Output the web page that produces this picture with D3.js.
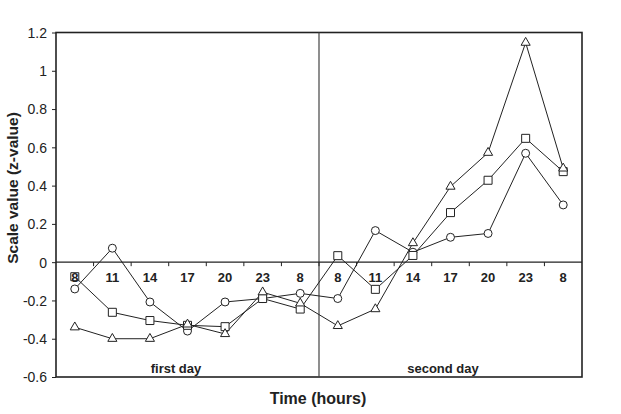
<!DOCTYPE html>
<html>
<head>
<meta charset="utf-8">
<script src="https://cdn.jsdelivr.net/npm/d3@7"></script>
<style>
  body { margin: 0; background: #fff; }
  svg { font-family: "Liberation Sans", Arial, sans-serif; }
</style>
</head>
<body>
<svg id="chart" width="621" height="414"></svg>
<script>
// hour labels, two days of 7 readings each
let hourLabels = ["8", "11", "14", "17", "20", "23", "8", "8", "11", "14", "17", "20", "23", "8"];
let dayLabels = ["first day", "second day"];
let yTicks = [-0.6, -0.4, -0.2, 0, 0.2, 0.4, 0.6, 0.8, 1, 1.2];

// series (z-values)
let circleVals = [-0.14, 0.073, -0.208, -0.36, -0.208, -0.19, -0.163, -0.19, 0.165, 0.052, 0.13, 0.15, 0.569, 0.299];
let squareVals = [-0.076, -0.262, -0.305, -0.33, -0.337, -0.19, -0.245, 0.034, -0.142, 0.035, 0.259, 0.428, 0.647, 0.473];
let triangleVals = [-0.34, -0.40, -0.40, -0.325, -0.375, -0.157, -0.215, -0.333, -0.245, 0.10, 0.395, 0.572, 1.147, 0.49];

let svg = d3.select("#chart");
let margin = {left: 56, right: 39, top: 32.5, bottom: 37};
let width = 621, height = 414;

let x = d3.scaleBand()
    .domain(d3.range(hourLabels.length))
    .range([margin.left, width - margin.right])
    .padding(0);

let y = d3.scaleLinear()
    .domain([-0.6, 1.2])
    .range([height - margin.bottom, margin.top]);

// y axis
let yAxis = svg.append("g")
    .attr("transform", "translate(" + margin.left + ",0)")
    .call(d3.axisLeft(y).tickValues(yTicks).tickSize(4).tickPadding(5)
        .tickFormat(d => String(+d.toFixed(1))));
yAxis.select(".domain").remove();
yAxis.selectAll(".tick line").attr("stroke", "#222");
yAxis.selectAll("text").attr("font-size", 14).attr("fill", "#222").attr("dy", "0.35em");

// frame
svg.append("rect")
    .attr("x", margin.left)
    .attr("y", margin.top)
    .attr("width", width - margin.left - margin.right)
    .attr("height", height - margin.top - margin.bottom)
    .attr("fill", "none")
    .attr("stroke", "#222")
    .attr("stroke-width", 1.6);

// zero line with ticks
let zero = svg.append("g").attr("transform", "translate(0," + y(0) + ")");
zero.append("line")
    .attr("x1", margin.left).attr("x2", width - margin.right)
    .attr("stroke", "#222").attr("stroke-width", 1.4);
zero.selectAll(".tk")
    .data(d3.range(1, hourLabels.length))
    .join("line")
    .attr("class", "tk")
    .attr("x1", d => x(d)).attr("x2", d => x(d))
    .attr("y1", 0).attr("y2", 4)
    .attr("stroke", "#222");

// day divider
svg.append("line")
    .attr("x1", x(7)).attr("x2", x(7))
    .attr("y1", margin.top).attr("y2", height - margin.bottom)
    .attr("stroke", "#444").attr("stroke-width", 1.2);

svg.selectAll(".day")
    .data(dayLabels)
    .join("text")
    .attr("class", "day")
    .attr("x", (d, i) => i === 0 ? 176 : 443)
    .attr("y", 373)
    .attr("text-anchor", "middle")
    .attr("font-size", 13)
    .attr("font-weight", "bold")
    .attr("fill", "#222")
    .text(d => d);

// series lines
let line = d3.line()
    .x((d, i) => x(i) + x.bandwidth() / 2)
    .y(d => y(d));

let series = [
    {vals: circleVals, sym: d3.symbolCircle, size: 50},
    {vals: squareVals, sym: d3.symbolSquare, size: 64},
    {vals: triangleVals, sym: d3.symbolTriangle, size: 36}
];

series.forEach(function (s) {
    svg.append("path")
        .datum(s.vals)
        .attr("d", line)
        .attr("fill", "none")
        .attr("stroke", "#222")
        .attr("stroke-width", 1);
});

series.forEach(function (s) {
    svg.append("g")
        .selectAll("path")
        .data(s.vals)
        .join("path")
        .attr("transform", (d, i) => "translate(" + (x(i) + x.bandwidth() / 2) + "," + y(d) + ")")
        .attr("d", d3.symbol().type(s.sym).size(s.size))
        .attr("fill", "#fff")
        .attr("stroke", "#222")
        .attr("stroke-width", 1);
});

// hour labels drawn over the marks
zero.selectAll(".hl")
    .data(hourLabels)
    .join("text")
    .attr("class", "hl")
    .attr("x", (d, i) => x(i) + x.bandwidth() / 2)
    .attr("y", 20)
    .attr("text-anchor", "middle")
    .attr("font-size", 13)
    .attr("font-weight", "bold")
    .attr("fill", "#222")
    .text(d => d);
zero.raise();

// axis titles
svg.append("text")
    .attr("transform", "translate(18,188) rotate(-90)")
    .attr("text-anchor", "middle")
    .attr("font-size", 15.5)
    .attr("font-weight", "bold")
    .attr("fill", "#222")
    .text("Scale value (z-value)");

svg.append("text")
    .attr("x", 318)
    .attr("y", 404)
    .attr("text-anchor", "middle")
    .attr("font-size", 16)
    .attr("font-weight", "bold")
    .attr("fill", "#222")
    .text("Time (hours)");
</script>
</body>
</html>
